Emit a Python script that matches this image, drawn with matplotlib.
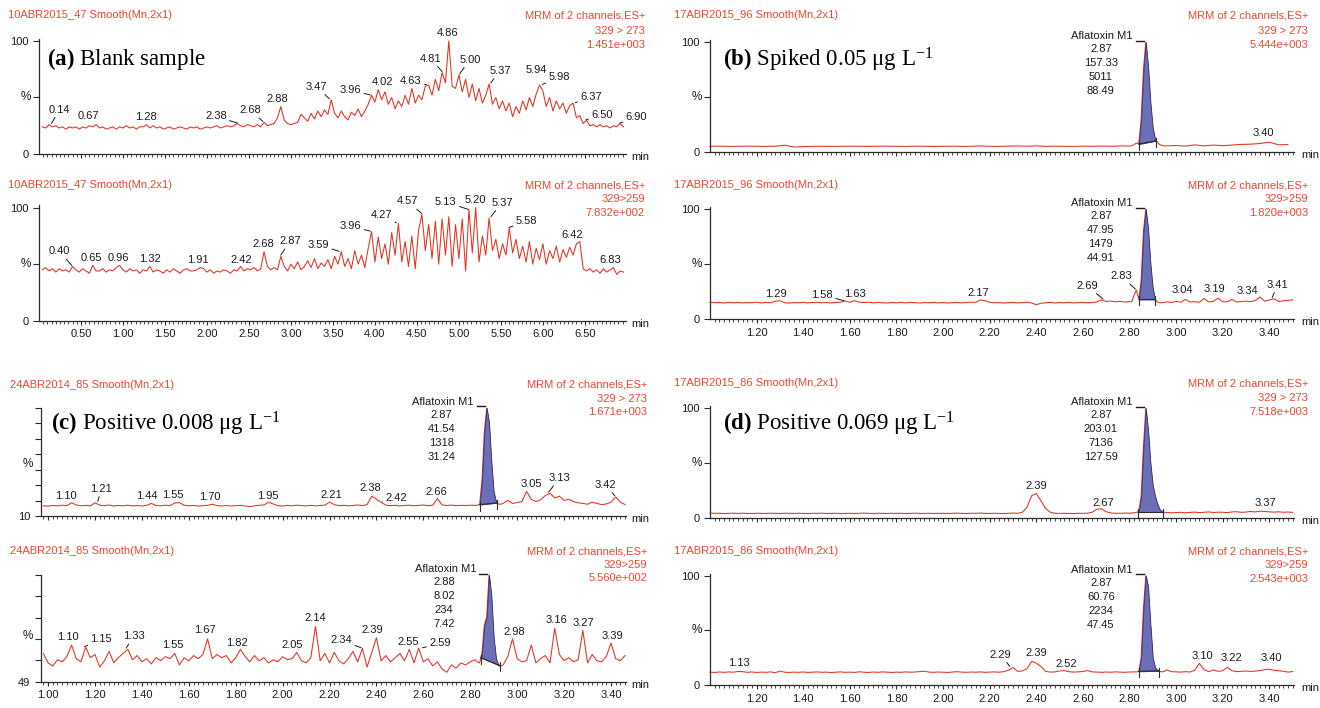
import numpy as np
import matplotlib
matplotlib.use("Agg")
import matplotlib.pyplot as plt

plt.rcParams["font.family"] = ["Liberation Sans", "DejaVu Sans"]
plt.rcParams["mathtext.fontset"] = "custom"
plt.rcParams["mathtext.rm"] = "Liberation Serif"
plt.rcParams["mathtext.it"] = "Liberation Serif:italic"
plt.rcParams["mathtext.bf"] = "Liberation Serif:bold"

# ------------------------------------------------------------------
# data (relative intensity in %)
# ------------------------------------------------------------------
# (a) blank sample, one value every 0.04 min starting at 0.04 min
A_T0, A_STEP = 0.04, 0.04
A_273 = [
    24, 23, 26, 24, 25, 23, 24, 22, 24, 23,
    24, 22, 24, 23, 25, 24, 26, 23, 24, 22,
    23, 24, 22, 24, 23, 25, 23, 24, 22, 24,
    24, 26, 23, 25, 23, 24, 22, 23, 24, 22,
    23, 24, 23, 22, 24, 23, 24, 22, 23, 24,
    23, 24, 25, 23, 24, 25, 24, 25, 27, 25,
    24, 26, 25, 24, 26, 24, 28, 25, 26, 27,
    32, 42, 30, 27, 26, 27, 28, 35, 32, 29,
    36, 31, 38, 33, 39, 35, 48, 36, 32, 38,
    33, 30, 37, 34, 40, 33, 38, 44, 52, 46,
    57, 48, 55, 44, 50, 40, 47, 42, 52, 44,
    58, 45, 52, 48, 60, 61, 52, 66, 56, 72,
    63, 100, 60, 58, 70, 55, 66, 50, 62, 47,
    58, 45, 52, 62, 44, 50, 40, 47, 38, 45,
    33, 42, 36, 47, 39, 50, 42, 53, 61, 56,
    42, 50, 38, 47, 40, 45, 36, 43, 45, 32,
    34, 27, 30, 25, 26, 24, 26, 24, 25, 23,
    25, 24, 27, 24]
A_259 = [
    45, 47, 44, 46, 43, 46, 44, 45, 43, 48,
    45, 43, 46, 44, 42, 49, 44, 44, 46, 43,
    45, 44, 47, 49, 45, 43, 46, 44, 45, 42,
    45, 44, 48, 43, 45, 44, 42, 45, 43, 46,
    44, 42, 45, 46, 44, 44, 45, 47, 46, 43,
    45, 42, 44, 43, 45, 44, 42, 45, 44, 48,
    44, 46, 45, 47, 44, 46, 61, 48, 45, 47,
    45, 57, 48, 44, 50, 46, 52, 45, 48, 53,
    47, 55, 46, 51, 48, 54, 46, 57, 50, 61,
    48, 55, 46, 62, 50, 58, 47, 64, 79, 52,
    74, 55, 68, 50, 78, 58, 86, 52, 70, 48,
    75, 46, 80, 94, 62, 85, 55, 88, 50, 90,
    58, 92, 48, 85, 55, 90, 44, 98, 60, 100,
    52, 75, 58, 91, 62, 72, 55, 68, 58, 82,
    60, 72, 55, 66, 52, 70, 50, 64, 54, 68,
    50, 62, 55, 66, 52, 63, 56, 65, 58, 68,
    70, 46, 44, 46, 43, 45, 42, 46, 43, 45,
    47, 41, 44, 43]
A_273_PEAKS = ["0.14", "0.67", "1.28", "2.38", "2.68", "2.88", "3.47", "3.96", "4.02",
               "4.63", "4.81", "4.86", "5.00", "5.37", "5.94", "5.98", "6.37", "6.50", "6.90"]
A_259_PEAKS = ["0.40", "0.65", "0.96", "1.32", "1.91", "2.42", "2.68", "2.87", "3.59",
               "3.96", "4.27", "4.57", "5.13", "5.20", "5.37", "5.58", "6.42", "6.83"]

# (b) spiked 0.05 ug/L ; None = covered by the detailed AFM1 peak points
B_T0 = 1.00
B_273_STEP = 0.04
B_273 = [
    5.5, 5.6, 5.4, 5.5, 5.6, 5.5, 5.4, 5.5, 6.5, 4.8,
    5.2, 5.4, 5.5, 5.4, 5.5, 5.6, 5.5, 5.4, 5.5, 5.6,
    5.5, 5.4, 5.6, 5.5, 5.3, 5.5, 5.6, 5.4, 5.5, 5.8,
    5.5, 5.4, 5.6, 5.8, 5.5, 5.9, 5.4, 5.6, 5.5, 5.4,
    5.6, 5.5, 5.7, 5.5, 5.8, 5.6, None, None, None, 5.8,
    6.2, 5.6, 6.8, 5.8, 6.6, 6.0, 6.6, 7.2, 7.4, 8.0, 9.2, 6.8, 7.0]
B_273_AFM1_T = [2.81, 2.82, 2.83, 2.84, 2.85, 2.86, 2.87, 2.88, 2.89, 2.90, 2.91, 2.92, 2.93, 2.94, 2.95]
B_273_AFM1_V = [6.0, 7.0, 8.5, 7.5, 30, 75, 100, 78, 45, 22, 12, 9, 7, 6.2, 5.8]
B_259_STEP = 0.02
B_259 = [
    15.5, 15.0, 15.2, 14.8, 15.3, 15.0, 15.4, 14.9, 15.2, 15.0,
    15.6, 14.8, 15.3, 15.0, 16.4, 16.8, 15.0, 14.7, 15.2, 15.0,
    15.3, 14.9, 15.2, 15.5, 15.0, 15.3, 14.8, 15.2, 15.4, 16.6,
    15.4, 16.9, 15.6, 15.2, 15.5, 14.9, 15.3, 15.1, 14.8, 15.2,
    15.0, 15.3, 14.9, 15.4, 15.1, 14.8, 15.2, 15.0, 15.4, 14.9,
    15.2, 14.8, 15.0, 15.3, 14.9, 15.2, 15.5, 15.4, 17.6, 16.8,
    15.4, 15.0, 15.2, 14.8, 15.0, 15.3, 14.9, 15.2, 15.5, 14.8,
    13.2, 14.6, 15.0, 15.3, 14.8, 15.2, 15.0, 15.4, 14.9, 15.2,
    15.4, 15.0, 15.3, 15.6, 17.8, 16.2, 16.5, 15.8, 16.3, 15.6,
    16.0, None, None, None, None, None, None, 15.0, 15.8, 15.3,
    16.2, 15.5, 18.0, 15.6, 16.0, 15.4, 18.8, 15.8, 16.2, 19.2,
    15.8, 16.0, 18.0, 15.6, 16.2, 16.5, 16.0, 17.0, 20.2, 16.4,
    17.5, 18.6, 16.2, 16.8, 17.2, 17.6]
B_259_AFM1_T = [2.81, 2.82, 2.83, 2.84, 2.85, 2.86, 2.87, 2.88, 2.89, 2.90, 2.91, 2.92, 2.93]
B_259_AFM1_V = [16.0, 22.0, 26.5, 18.0, 35.0, 80.0, 100, 82.0, 50.0, 28.0, 18.0, 15.5, 15.0]
B_273_PEAKS = ["3.40"]
B_259_PEAKS = ["1.29", "1.58", "1.63", "2.17", "2.69", "2.83", "3.04", "3.19", "3.34", "3.41"]
B_273_RESULT = ["2.87", "157.33", "5011", "88.49"]
B_259_RESULT = ["2.87", "47.95", "1479", "44.91"]

# (c) positive 0.008 ug/L
C_T0, C_STEP = 0.98, 0.02
C_273 = [
    18.5, 18.2, 18.8, 18.4, 19.0, 18.6, 21.0, 19.2, 18.5, 18.9,
    18.4, 21.0, 19.0, 18.6, 19.2, 18.3, 18.8, 18.5, 19.0, 18.4,
    18.7, 18.3, 18.9, 20.5, 18.8, 18.5, 19.0, 18.6, 20.8, 21.2,
    19.0, 18.5, 18.8, 18.2, 18.6, 18.9, 19.8, 18.6, 18.4, 18.7,
    18.3, 18.6, 18.9, 18.4, 17.8, 18.5, 18.9, 19.2, 21.5, 20.0,
    18.6, 18.3, 18.8, 18.5, 19.0, 18.7, 18.4, 18.9, 18.5, 18.8,
    19.0, 21.6, 19.5, 18.6, 18.9, 18.4, 18.8, 19.2, 18.7, 19.5,
    26.5, 24.0, 21.5, 19.0, 18.6, 18.9, 18.4, 18.8, 19.0, 18.5,
    18.8, 19.2, 18.6, 19.0, 24.5, 19.2, 18.8, 19.1, 18.6, 18.9,
    18.7, 19.0, 18.8, None, None, None, None, None, 20.5, 23.0,
    20.5, 21.2, 22.0, 30.5, 24.0, 22.0, 23.5, 27.0, 29.0, 25.0,
    26.5, 23.0, 24.0, 22.0, 21.0, 20.5, 19.8, 21.5, 20.5, 19.5,
    20.0, 21.5, 26.0, 21.5, 19.5]
C_273_AFM1_T = [2.83, 2.84, 2.85, 2.86, 2.87, 2.88, 2.89, 2.90, 2.91, 2.92, 2.93]
C_273_AFM1_V = [19.0, 19.5, 40.0, 80.0, 100, 88.0, 55.0, 30.0, 22.0, 20.0, 19.8]
C_259 = [
    62.5, 58.0, 56.5, 59.5, 58.5, 61.0, 66.5, 60.0, 58.5, 65.5,
    60.5, 62.0, 56.0, 59.0, 63.5, 58.0, 60.5, 62.5, 64.5, 59.5,
    61.5, 58.5, 60.0, 57.5, 60.5, 59.0, 61.0, 60.0, 62.5, 57.0,
    60.5, 59.0, 61.5, 60.0, 62.0, 69.5, 60.0, 62.0, 60.5, 61.5,
    58.0, 60.5, 64.5, 61.0, 58.5, 61.5, 59.0, 60.5, 58.0, 59.5,
    58.5, 61.0, 59.5, 60.0, 63.0, 59.0, 58.0, 60.5, 75.5, 59.0,
    62.5, 58.0, 63.0, 59.0, 57.5, 60.0, 63.5, 58.5, 65.0, 56.0,
    63.0, 70.0, 59.0, 61.5, 58.5, 60.5, 62.5, 59.0, 64.5, 58.0,
    65.0, 58.5, 60.0, 56.5, 58.5, 55.0, 53.5, 57.0, 55.5, 58.0,
    57.0, 58.5, 59.5, None, None, None, None, None, 57.0, 61.0,
    69.5, 60.0, 58.5, 59.0, 66.5, 58.0, 60.0, 61.5, 58.0, 74.5,
    62.0, 59.0, 60.5, 58.5, 59.5, 73.5, 58.0, 62.0, 59.0, 58.5,
    61.0, 67.5, 60.0, 59.0, 61.5]
C_259_AFM1_T = [2.83, 2.84, 2.85, 2.86, 2.87, 2.88, 2.89, 2.90, 2.91, 2.92, 2.93]
C_259_AFM1_V = [58.5, 58.0, 63.0, 76.0, 80.0, 100, 90.0, 70.0, 60.0, 57.0, 56.5]
C_273_PEAKS = ["1.10", "1.21", "1.44", "1.55", "1.70", "1.95", "2.21", "2.38", "2.42",
               "2.66", "3.05", "3.13", "3.42"]
C_259_PEAKS = ["1.10", "1.15", "1.33", "1.55", "1.67", "1.82", "2.05", "2.14", "2.34",
               "2.39", "2.55", "2.59", "2.98", "3.16", "3.27", "3.39"]
C_273_RESULT = ["2.87", "41.54", "1318", "31.24"]
C_259_RESULT = ["2.88", "8.02", "234", "7.42"]

# (d) positive 0.069 ug/L
D_T0, D_STEP = 1.00, 0.02
D_273 = [
    4.8, 4.5, 4.6, 4.3, 4.5, 4.7, 4.4, 4.6, 4.5, 4.3,
    4.6, 4.5, 4.4, 4.7, 4.5, 4.3, 4.6, 4.5, 4.4, 4.6,
    4.5, 4.3, 4.6, 4.5, 4.7, 4.4, 4.5, 4.6, 4.3, 4.5,
    4.6, 4.4, 4.5, 4.7, 4.5, 4.3, 4.6, 4.5, 4.4, 4.6,
    4.5, 4.6, 4.3, 4.5, 4.7, 4.4, 4.5, 4.6, 4.4, 4.5,
    4.6, 4.4, 4.5, 4.7, 4.5, 4.3, 4.6, 4.5, 4.8, 4.5,
    4.4, 4.6, 4.5, 4.3, 4.6, 4.8, 4.5, 5.5, 10.0, 20.5,
    22.5, 16.0, 9.0, 5.5, 4.6, 4.4, 4.6, 4.5, 4.3, 4.6,
    4.5, 4.7, 5.5, 8.2, 8.6, 6.0, 4.8, 4.6, 4.5, 4.8,
    4.6, 5.0, None, None, None, None, None, None, 5.3, 5.0,
    5.2, 5.5, 5.0, 5.4, 5.6, 5.2, 5.5, 5.8, 5.3, 5.6,
    5.5, 5.2, 5.8, 6.0, 5.4, 5.7, 6.2, 5.8, 6.5, 6.2,
    5.8, 5.6, 5.9, 5.5, 5.7, 5.4]
D_273_AFM1_T = [2.83, 2.84, 2.85, 2.86, 2.87, 2.88, 2.89, 2.90, 2.91, 2.92, 2.93, 2.94, 2.95]
D_273_AFM1_V = [5.5, 6.0, 20.0, 65.0, 100, 80.0, 50.0, 30.0, 20.0, 13.0, 8.0, 6.0, 5.5]
D_259 = [
    11.8, 11.5, 11.9, 11.6, 12.0, 11.7, 12.4, 12.2, 11.6, 11.9,
    11.5, 11.8, 11.6, 12.0, 11.2, 12.8, 11.7, 11.5, 11.8, 11.6,
    11.9, 11.5, 11.7, 12.0, 11.6, 11.8, 11.4, 11.7, 12.0, 11.6,
    11.8, 11.5, 12.1, 11.7, 11.5, 11.9, 11.6, 12.0, 11.7, 11.5,
    11.8, 11.6, 12.0, 11.7, 11.9, 12.3, 12.6, 11.8, 11.6, 11.9,
    11.7, 11.5, 11.9, 12.2, 11.8, 11.6, 11.9, 11.7, 12.0, 11.6,
    11.8, 12.0, 11.7, 12.2, 13.5, 16.0, 12.5, 12.8, 15.0, 21.5,
    20.0, 17.0, 12.5, 11.8, 12.0, 12.8, 13.2, 12.2, 11.8, 12.0,
    12.4, 13.2, 12.0, 11.8, 11.6, 11.9, 11.7, 12.0, 11.8, 11.6,
    11.9, 12.0, None, None, None, None, None, None, 13.8, 12.2,
    12.0, 11.8, 12.2, 11.9, 13.5, 19.8, 14.0, 12.2, 13.8, 12.5,
    13.0, 16.2, 13.0, 12.2, 12.5, 12.8, 12.4, 12.7, 13.2, 14.0,
    14.5, 13.5, 13.0, 12.6, 11.8, 12.3]
D_259_AFM1_T = [2.83, 2.84, 2.85, 2.86, 2.87, 2.88, 2.89, 2.90, 2.91, 2.92, 2.93, 2.94, 2.95]
D_259_AFM1_V = [12.0, 12.5, 25.0, 70.0, 100, 90.0, 55.0, 25.0, 16.0, 13.5, 12.5, 12.0, 12.5]
D_273_PEAKS = ["2.39", "2.67", "3.37"]
D_259_PEAKS = ["1.13", "2.29", "2.39", "2.52", "3.10", "3.22", "3.40"]
D_273_RESULT = ["2.87", "203.01", "7136", "127.59"]
D_259_RESULT = ["2.87", "60.76", "2234", "47.45"]

# header texts
SAMPLES = ["10ABR2015_47", "17ABR2015_96", "24ABR2014_85", "17ABR2015_86"]
TRANSITIONS = ["329 > 273", "329>259"]
SCALES = ["1.451e+003", "7.832e+002", "5.444e+003", "1.820e+003",
          "1.671e+003", "5.560e+002", "7.518e+003", "2.543e+003"]
TITLES = [r"$\mathbf{(a)}$ Blank sample",
          r"$\mathbf{(b)}$ Spiked 0.05 μg L$^{-1}$",
          r"$\mathbf{(c)}$ Positive 0.008 μg L$^{-1}$",
          r"$\mathbf{(d)}$ Positive 0.069 μg L$^{-1}$"]

# ------------------------------------------------------------------
# label placement (pixel offsets of the text centre from the peak top, leader line flag)
# ------------------------------------------------------------------
OFF_A_273 = [(9, -15, 1), (-7, -9, 0), (-1, -8, 0), (-23, -7, 1), (-14, -12, 1), (-4, -8, 0),
             (-14, -13, 1), (-21, -5, 1), (6, -8, 0), (-17, -4, 1), (-12, -14, 1), (0, -8, 0),
             (11, -15, 1), (10, -13, 1), (-2, -15, 0), (18, -8, 1), (17, -6, 1), (17, -5, 1),
             (18, -6, 1)]
OFF_A_259 = [(-13, -15, 1), (-2, -7, 0), (-1, -7, 0), (0, -7, 0), (-1, -8, 0), (-1, -6, 0),
             (-1, -8, 0), (10, -15, 1), (-22, -7, 1), (-21, -5, 1), (-16, -8, 1), (-15, -13, 1),
             (-24, -8, 1), (0, -8, 0), (12, -15, 1), (19, -7, 1), (-6, -7, 0), (-2, -8, 0)]
OFF_B_273 = [(-6, -9, 0)]
OFF_B_259 = [(-2, -7, 0), (-23, -6, 1), (-2, -7, 0), (-4, -7, 0), (-17, -14, 1), (-15, -14, 1),
             (-3, -9, 0), (-6, -9, 0), (-8, -10, 0), (6, -14, 1)]
OFF_C_273 = [(-6, -7, 0), (4, -14, 1), (-4, -7, 0), (-4, -8, 0), (-2, -7, 0), (-3, -6, 0),
             (-1, -7, 0), (-1, -8, 0), (15, -4, 1), (-1, -7, 0), (2, -7, 0), (12, -15, 1),
             (-10, -12, 1)]
OFF_C_259 = [(-4, -8, 0), (18, -8, 1), (8, -13, 1), (-4, -8, 0), (0, -9, 0), (-3, -6, 0),
             (-2, -7, 0), (0, -8, 0), (-21, -8, 1), (-2, -8, 0), (-3, -7, 0), (19, -5, 1),
             (2, -7, 0), (2, -8, 0), (3, -7, 0), (4, -7, 0)]
OFF_D_273 = [(2, -8, 0), (4, -6, 0), (3, -8, 0)]
OFF_D_259 = [(-1, -8, 0), (-10, -13, 1), (2, -8, 0), (2, -7, 0), (3, -7, 0), (4, -9, 0), (2, -11, 0)]

W, H = 1320, 708
LINE_RED = "#e5301c"
TEXT_RED = "#f0452e"
INK = "#1a1a1a"
AXIS = "#2b2b2b"
FILL = "#6a6fb8"
FILL_EDGE = "#30316e"

fig = plt.figure(figsize=(W / 100, H / 100), dpi=100)


def fig_text(x, y, s, **kw):
    return fig.text(x / W, 1 - y / H, s, **kw)


def build_trace(t0, step, vals, peak_t=None, peak_v=None):
    v = np.array(vals, dtype=float)
    t = t0 + step * np.arange(len(v))
    keep = ~np.isnan(v)
    t, v = t[keep], v[keep]
    if peak_t is not None:
        t = np.concatenate([t, peak_t])
        v = np.concatenate([v, peak_v])
        order = np.argsort(t)
        t, v = t[order], v[order]
    return t, v


def local_top(t, v, at, half):
    near = np.abs(t - at) <= half
    return v[near].max() if near.any() else np.interp(at, t, v)


def draw(spec):
    x0, x1, y_lo, y_hi = spec["box"]
    xlim, ylim = spec["xlim"], spec["ylim"]
    ax = fig.add_axes([x0 / W, 1 - y_lo / H, (x1 - x0) / W, (y_lo - y_hi) / H])
    ax.set_xlim(xlim)
    ax.set_ylim(ylim)
    ax.patch.set_visible(False)
    sx = (xlim[1] - xlim[0]) / (x1 - x0)
    sy = (ylim[1] - ylim[0]) / (y_lo - y_hi)
    for side in ("top", "right"):
        ax.spines[side].set_visible(False)
    for side in ("left", "bottom"):
        ax.spines[side].set_color(AXIS)
        ax.spines[side].set_linewidth(0.9)

    major, minor = spec["xticks"]
    ax.set_xticks(major)
    ax.set_xticks(minor, minor=True)
    ax.set_xticklabels([f"{m:.2f}" for m in major] if spec["xlabels"] else [])
    ax.set_yticks(spec["yticks"])
    ax.set_yticklabels(spec["ylabels"])
    ax.tick_params(axis="x", which="major", direction="out", length=3.2, width=0.8,
                   color=AXIS, labelsize=8, labelcolor=INK, pad=3)
    ax.tick_params(axis="x", which="minor", direction="out", length=2.2, width=0.6, color=AXIS)
    ax.tick_params(axis="y", which="major", direction="out", length=4.5, width=0.8,
                   color=AXIS, labelsize=8, labelcolor=INK, pad=3)
    ax.annotate("%", xy=(0, spec["pct"]), xycoords=("axes fraction", "data"),
                xytext=(-13, 0), textcoords="offset pixels", ha="center", va="center",
                fontsize=8.5, color=INK, annotation_clip=False)
    ax.annotate("min", xy=(1, 0), xycoords="axes fraction", xytext=(spec["min_dx"], -3),
                textcoords="offset pixels", ha="center", va="center", fontsize=8,
                color=INK, annotation_clip=False)

    t, v = spec["trace"]
    ax.plot(t, v, color=LINE_RED, lw=0.75, clip_on=False, zorder=2)

    half = spec["half"]
    for lab, (dx, dy, lead) in zip(spec["peaks"], spec["offsets"]):
        at = float(lab)
        top = local_top(t, v, at, half)
        kw = {}
        if lead:
            kw["arrowprops"] = dict(arrowstyle="-", color=INK, lw=0.7, shrinkA=0, shrinkB=1)
        ax.annotate(lab, xy=(at, top), xytext=(dx, -dy), textcoords="offset pixels",
                    ha="center", va="center", fontsize=8, color=INK,
                    annotation_clip=False, **kw)

    if spec.get("result"):
        res = spec["result"]
        ts, te = spec["integ"]
        at = float(res[0])
        top = local_top(t, v, at, 0.006)
        ys, ye = np.interp(ts, t, v), np.interp(te, t, v)
        inside = (t > ts) & (t < te)
        px = np.concatenate([[ts], t[inside], [te]])
        py = np.concatenate([[ys], v[inside], [ye]])
        base = ys + (px - ts) / (te - ts) * (ye - ys)
        ax.fill_between(px, base, py, facecolor=FILL, edgecolor=FILL_EDGE, lw=0.6,
                        zorder=3, clip_on=False)
        ax.plot([ts, te], [ys, ye], color=AXIS, lw=0.8, zorder=4, clip_on=False)
        for xe, yb in ((ts, ys), (te, ye)):
            ax.plot([xe, xe], [yb - 6 * sy, yb + 3 * sy], color=AXIS, lw=0.8, zorder=4,
                    clip_on=False)
        ax.plot([at - 10 * sx, at - 2 * sx], [top + 1.5 * sy] * 2, color=INK, lw=1.0,
                clip_on=False)
        ax.annotate("Aflatoxin M1", xy=(at, top), xytext=(-13, 6), textcoords="offset pixels",
                    ha="right", va="center", fontsize=8, color=INK, annotation_clip=False)
        for i, s in enumerate(res):
            ax.annotate(s, xy=(at, top), xytext=(-45, -(7 + 14 * i)),
                        textcoords="offset pixels", ha="center", va="center", fontsize=8,
                        color=INK, annotation_clip=False)
    return ax


def header(sample, transition, scale, left, right_x, ys):
    fig_text(left[0], left[1], f"{sample} Smooth(Mn,2x1)", ha="left", va="center",
             fontsize=8, color=TEXT_RED)
    for s, y in zip(["MRM of 2 channels,ES+", transition, scale], ys):
        fig_text(right_x, y, s, ha="right", va="center", fontsize=8, color=TEXT_RED)


# tick layouts
A_XT = (np.arange(0.5, 6.51, 0.5), np.arange(0.05, 6.99, 0.05))
BD_XT = (np.arange(1.2, 3.41, 0.2), np.arange(1.02, 3.505, 0.02))
C_XT = (np.arange(1.0, 3.41, 0.2), np.arange(0.98, 3.465, 0.02))
Y100 = ([0, 50, 100], ["0", "", "100"])

specs = [
    dict(box=(39, 626, 154, 38.7), xlim=(0, 6.99), ylim=(0, 102), xticks=A_XT, xlabels=False,
         yticks=Y100[0], ylabels=Y100[1], pct=50, min_dx=14,
         trace=build_trace(A_T0, A_STEP, A_273), half=0.021,
         peaks=A_273_PEAKS, offsets=OFF_A_273),
    dict(box=(39, 626, 320.7, 205.4), xlim=(0, 6.99), ylim=(0, 102), xticks=A_XT, xlabels=True,
         yticks=Y100[0], ylabels=Y100[1], pct=50, min_dx=14,
         trace=build_trace(A_T0, A_STEP, A_259), half=0.021,
         peaks=A_259_PEAKS, offsets=OFF_A_259),
    dict(box=(710, 1294, 152.3, 40.1), xlim=(1.0, 3.506), ylim=(0, 102), xticks=BD_XT,
         xlabels=False, yticks=Y100[0], ylabels=Y100[1], pct=50, min_dx=16,
         trace=build_trace(B_T0, B_273_STEP, B_273, B_273_AFM1_T, B_273_AFM1_V), half=0.022,
         peaks=B_273_PEAKS, offsets=OFF_B_273, result=B_273_RESULT, integ=(2.84, 2.915)),
    dict(box=(710, 1294, 319.3, 206.8), xlim=(1.0, 3.506), ylim=(0, 102), xticks=BD_XT,
         xlabels=True, yticks=Y100[0], ylabels=Y100[1], pct=50, min_dx=16,
         trace=build_trace(B_T0, B_259_STEP, B_259, B_259_AFM1_T, B_259_AFM1_V), half=0.011,
         peaks=B_259_PEAKS, offsets=OFF_B_259, result=B_259_RESULT, integ=(2.84, 2.91)),
    dict(box=(40.6, 626, 516, 408), xlim=(0.968, 3.464), ylim=(10, 100), xticks=C_XT,
         xlabels=False, yticks=np.linspace(10, 100, 8), ylabels=["10"] + [""] * 7, pct=53,
         min_dx=14,
         trace=build_trace(C_T0, C_STEP, C_273, C_273_AFM1_T, C_273_AFM1_V), half=0.011,
         peaks=C_273_PEAKS, offsets=OFF_C_273, result=C_273_RESULT, integ=(2.84, 2.915)),
    dict(box=(40.6, 626, 681.7, 575), xlim=(0.968, 3.464), ylim=(49, 100), xticks=C_XT,
         xlabels=True, yticks=np.linspace(49, 100, 6), ylabels=["49"] + [""] * 5, pct=71,
         min_dx=14,
         trace=build_trace(C_T0, C_STEP, C_259, C_259_AFM1_T, C_259_AFM1_V), half=0.011,
         peaks=C_259_PEAKS, offsets=OFF_C_259, result=C_259_RESULT, integ=(2.845, 2.925)),
    dict(box=(710, 1294, 518.3, 406.1), xlim=(1.0, 3.506), ylim=(0, 102), xticks=BD_XT,
         xlabels=False, yticks=Y100[0], ylabels=Y100[1], pct=50, min_dx=16,
         trace=build_trace(D_T0, D_STEP, D_273, D_273_AFM1_T, D_273_AFM1_V), half=0.011,
         peaks=D_273_PEAKS, offsets=OFF_D_273, result=D_273_RESULT, integ=(2.835, 2.945)),
    dict(box=(710, 1294, 685, 573.5), xlim=(1.0, 3.506), ylim=(0, 102), xticks=BD_XT,
         xlabels=True, yticks=Y100[0], ylabels=Y100[1], pct=50, min_dx=16,
         trace=build_trace(D_T0, D_STEP, D_259, D_259_AFM1_T, D_259_AFM1_V), half=0.011,
         peaks=D_259_PEAKS, offsets=OFF_D_259, result=D_259_RESULT, integ=(2.84, 2.925)),
]

for spec in specs:
    draw(spec)

# headers: (left x, y), right x, y of the three right-hand lines
header_pos = [
    ((8, 15), 645, (15, 31, 45.5)),
    ((8, 185), 645, (185, 199, 213)),
    ((674, 15), 1308, (15, 31.5, 45.5)),
    ((674, 185), 1308, (185, 199.5, 213)),
    ((10, 385), 647, (385, 398.5, 412)),
    ((10, 551), 647, (551, 564.5, 578)),
    ((674, 383), 1308, (383, 398, 412)),
    ((674, 551), 1308, (551, 565, 579)),
]
for i, (left, rx, ys) in enumerate(header_pos):
    header(SAMPLES[i // 2], TRANSITIONS[i % 2], SCALES[i], left, rx, ys)

title_pos = [(47, 65), (723, 67), (51, 430), (723, 431)]
for s, (x, y) in zip(TITLES, title_pos):
    fig_text(x, y, s, ha="left", va="baseline", fontsize=16.5, family="Liberation Serif",
             color="black")

fig.savefig("out.png", dpi=100)
